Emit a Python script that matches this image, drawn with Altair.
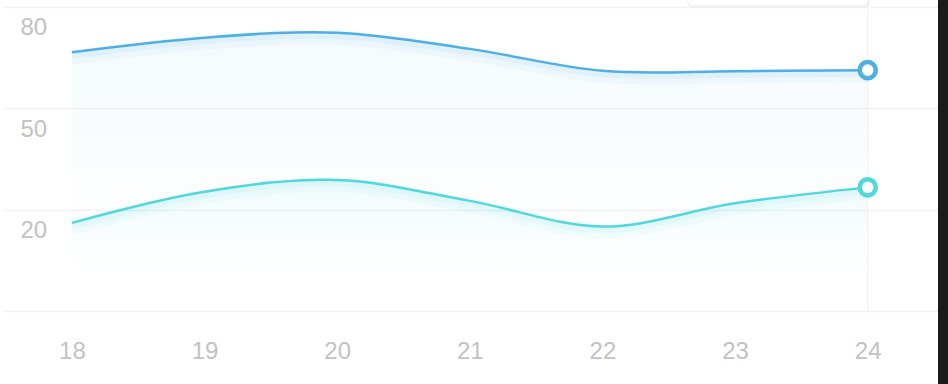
import altair as alt
import pandas as pd

hours = [18, 19, 20, 21, 22, 23, 24]
upper_vals = [66.6, 70.9, 72.4, 67.6, 61.1, 61.0, 61.3]
lower_vals = [16.1, 25.3, 28.8, 22.6, 15.0, 21.9, 26.6]
y_ticks = [80, 50, 20, -10]

UPPER = "#4cb0e3"
LOWER = "#50d8dc"

df_u = pd.DataFrame({"h": hours, "v": upper_vals})
df_l = pd.DataFrame({"h": hours, "v": lower_vals})

xs = alt.Scale(domain=[17.48, 24.53], nice=False, zero=False)
ys = alt.Scale(domain=[-10, 82.07], nice=False, zero=False)

x_axis = alt.Axis(values=hours, labelFontSize=24, labelColor="#c2c2c2", labelFont="Liberation Sans",
                  grid=False, ticks=False, domain=False, labelPadding=28, title=None, format="d")
y_axis = alt.Axis(values=y_ticks, labelFontSize=24, labelColor="#c2c2c2", labelFont="Liberation Sans",
                  grid=True, gridColor="#f2f2f2", gridWidth=1.5, ticks=False, domain=False,
                  labelAlign="left", labelBaseline="middle", labelPadding=0, offset=-17,
                  labelOffset=21, labelExpr="datum.value < 0 ? '' : datum.label", title=None)

X = lambda: alt.X("h:Q", scale=xs, axis=x_axis)
Y = lambda: alt.Y("v:Q", scale=ys, axis=y_axis)
INTERP = "cardinal"


def series(df, color):
    base = alt.Chart(df).encode(x=X(), y=Y())
    area = base.mark_area(interpolate=INTERP, opacity=0.06,
                          color=alt.Gradient(gradient="linear",
                                             stops=[alt.GradientStop(color=color, offset=0),
                                                    alt.GradientStop(color="#ffffff", offset=1)],
                                             x1=0, x2=0, y1=0, y2=1))
    glow1 = base.mark_line(interpolate=INTERP, color=color, strokeWidth=14, opacity=0.05, yOffset=5)
    glow2 = base.mark_line(interpolate=INTERP, color=color, strokeWidth=7, opacity=0.07, yOffset=3)
    line = base.mark_line(interpolate=INTERP, color=color, strokeWidth=2.5)
    last = alt.Chart(df.tail(1)).mark_point(shape="circle", filled=True, fill="white", stroke=color,
                                            strokeWidth=4.5, size=260, opacity=1).encode(x=X(), y=Y())
    return area, glow1, glow2, line, last


ua, ug1, ug2, ul, up = series(df_u, UPPER)
la, lg1, lg2, ll, lp = series(df_l, LOWER)

cross = alt.Chart(pd.DataFrame({"h": [hours[-1]]})).mark_rule(color="#f3f3f5", strokeWidth=1.5).encode(
    x=X())

one = pd.DataFrame({"k": [0]})
tip_shadow = alt.Chart(one).mark_rect(fill="#ebebf0", cornerRadius=6, opacity=0.6).encode(
    x=alt.value(684), x2=alt.value(867), y=alt.value(-20), y2=alt.value(8))
tip = alt.Chart(one).mark_rect(fill="white", cornerRadius=5).encode(
    x=alt.value(685), x2=alt.value(865), y=alt.value(-20), y2=alt.value(5))
strip = alt.Chart(one).mark_rect(fill="#1b1b1b").encode(
    x=alt.value(935), x2=alt.value(950), y=alt.value(-5), y2=alt.value(390))

chart = alt.layer(
    ua, la, cross, ug1, ug2, lg1, lg2, ul, ll, up, lp, tip_shadow, tip, strip
).properties(
    width=935, height=311,
    autosize=alt.AutoSizeParams(type="none"),
    padding={"left": 3, "top": 0, "right": 10, "bottom": 73},
    background="white",
).configure_view(stroke=None)

chart.save("out.html", embed_options={"renderer": "svg", "actions": False})
